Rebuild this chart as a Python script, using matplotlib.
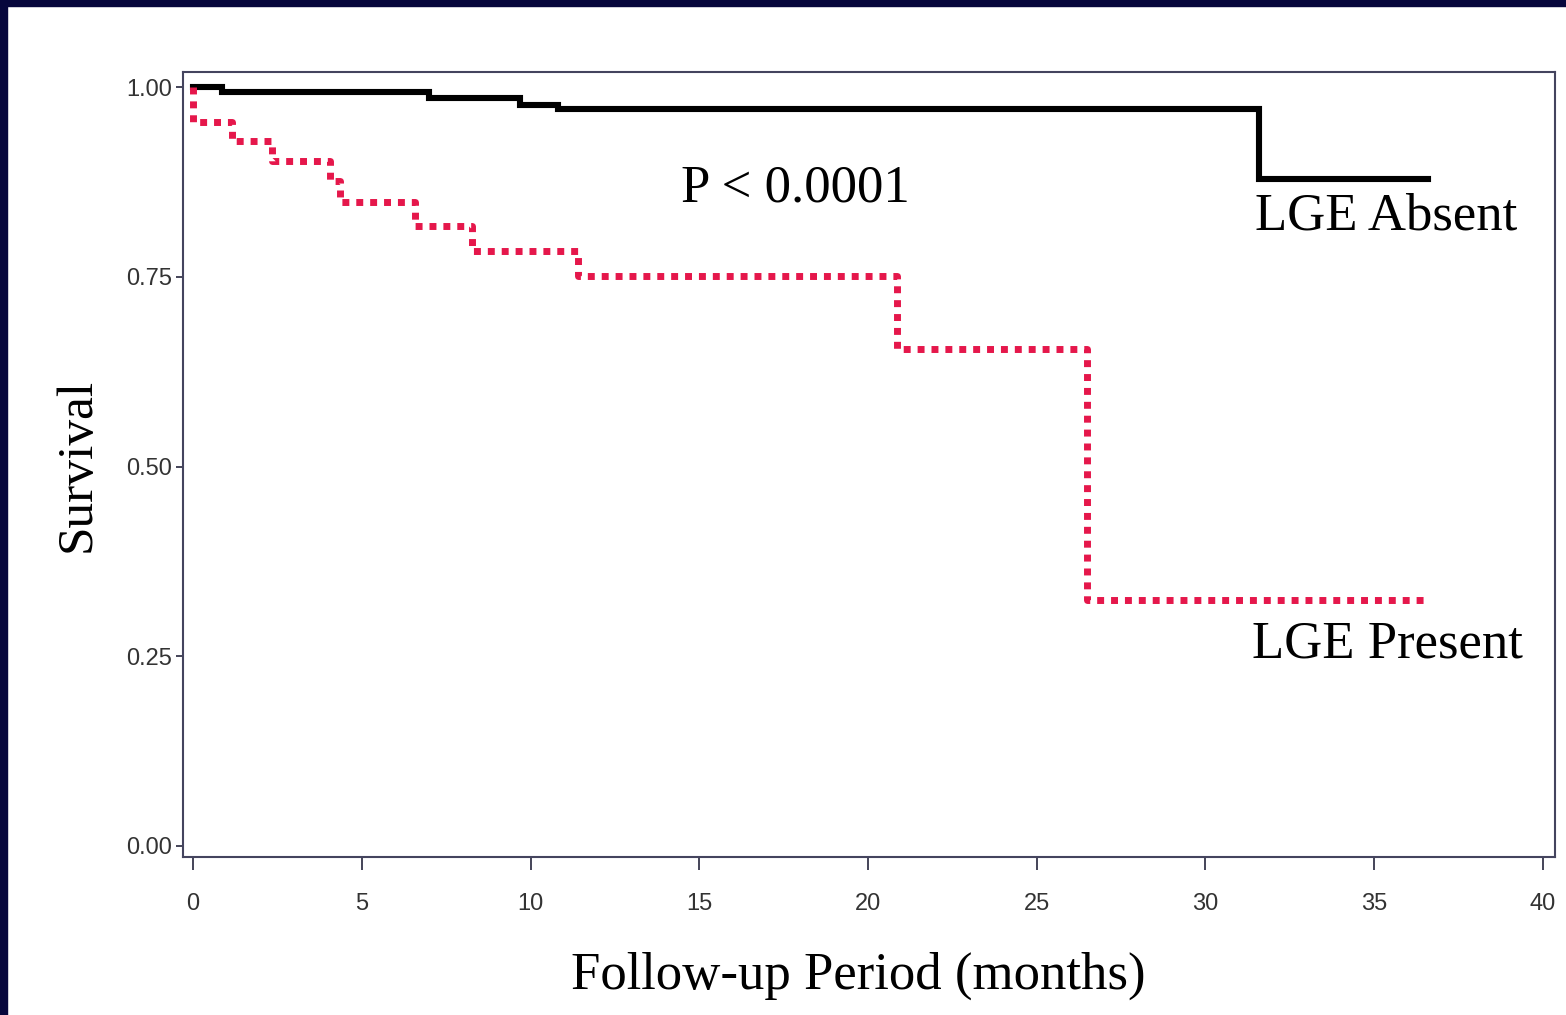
import matplotlib.pyplot as plt
from matplotlib.patches import Rectangle

# Kaplan-Meier steps (months, survival)
absent_months = [0, 0.86, 7.0, 9.7, 10.8, 31.6, 36.6]
absent_surv = [1.0, 0.993, 0.986, 0.977, 0.971, 0.879, 0.879]

present_months = [0, 0, 1.15, 2.33, 4.06, 4.35, 6.58, 8.27, 11.4, 20.86, 26.5, 36.6]
present_surv = [1.0, 0.954, 0.929, 0.903, 0.876, 0.849, 0.817, 0.784, 0.751, 0.655, 0.324, 0.324]

x_ticks = [0, 5, 10, 15, 20, 25, 30, 35, 40]
y_ticks = [0.0, 0.25, 0.50, 0.75, 1.00]
y_labels = ["0.00", "0.25", "0.50", "0.75", "1.00"]

serif = "Liberation Serif"
sans = "Liberation Sans"

fig = plt.figure(figsize=(15.66, 10.15), dpi=100)
fig.patch.set_facecolor("white")

# dark navy frame strips on the left and top
navy = "#07073c"
fig.patches.append(Rectangle((0, 0), 7 / 1566, 1, transform=fig.transFigure,
                             color=navy, zorder=10))
fig.patches.append(Rectangle((0, 1 - 6 / 1015), 1, 6 / 1015, transform=fig.transFigure,
                             color=navy, zorder=10))

ax = fig.add_axes([183 / 1566, 158 / 1015, 1372 / 1566, 785 / 1015])

ax.plot(absent_months, absent_surv, drawstyle="steps-post", color="black",
        lw=4.4, solid_joinstyle="miter")
ax.plot(present_months, present_surv, drawstyle="steps-post", color="#e5174b",
        lw=5, linestyle=(0, (1, 1)))

ax.set_xlim(-0.3, 40.36)
ax.set_ylim(-0.0145, 1.02)

ax.set_xticks(x_ticks)
ax.set_xticklabels([str(t) for t in x_ticks], fontfamily=sans, fontsize=17)
ax.set_yticks(y_ticks)
ax.set_yticklabels(y_labels, fontfamily=sans, fontsize=17)
ax.tick_params(axis="x", direction="out", length=9, width=1.4, pad=17, colors="#444458")
ax.tick_params(axis="y", direction="out", length=5, width=1.4, pad=3, colors="#444458")
for lab in ax.get_xticklabels() + ax.get_yticklabels():
    lab.set_color("#333333")

for sp in ax.spines.values():
    sp.set_color("#44445e")
    sp.set_linewidth(1.5)

ax.set_xlabel("Follow-up Period (months)", fontfamily=serif, fontsize=38, labelpad=26)
ax.xaxis.label.set_x(0.492)
ax.set_ylabel("Survival", fontfamily=serif, fontsize=37, labelpad=18)

ax.text(795 / 1566, 1 - 188 / 1015, "P < 0.0001", transform=fig.transFigure,
        fontfamily=serif, fontsize=38, ha="center", va="center")
ax.text(1255 / 1566, 1 - 217 / 1015, "LGE Absent", transform=fig.transFigure,
        fontfamily=serif, fontsize=38, ha="left", va="center")
ax.text(1252 / 1566, 1 - 645 / 1015, "LGE Present", transform=fig.transFigure,
        fontfamily=serif, fontsize=38, ha="left", va="center")

fig.savefig("out.png", dpi=100)
